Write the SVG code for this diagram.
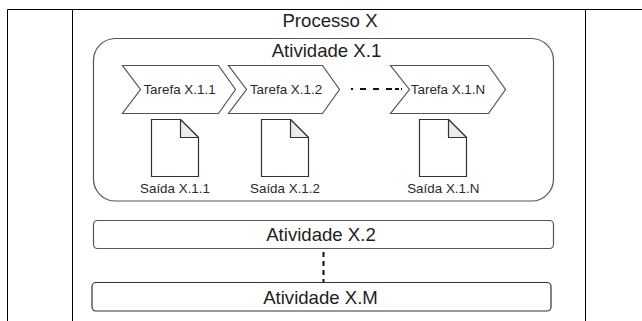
<svg xmlns="http://www.w3.org/2000/svg" width="642" height="321" viewBox="0 0 642 321">
<style>
.t{font-family:"Liberation Sans",Arial,sans-serif;fill:#1e1e1e;text-anchor:middle}
.big{font-size:18.6px}
.sm{font-size:13.4px;fill:#2a2a2a}
.shape{fill:#fff;stroke:#555;stroke-width:1.2}
.doc{fill:#fff;stroke:#333;stroke-width:1.2}
.fold{fill:#ececec;stroke:#333;stroke-width:1.2;stroke-linejoin:round}
.grid{stroke:#000;stroke-width:1;fill:none}
.dash{stroke:#111;stroke-width:2;fill:none}
</style>
<rect width="642" height="321" fill="#fff"/>
<g id="table">
<path class="grid" d="M7.5 321 V9.5 H642 M72.5 9.5 V321 M585.5 9.5 V321"/>
</g>
<g id="processo">
<text class="t big" x="330" y="26.5">Processo X</text>
</g>
<g id="atividade-x1">
<rect class="shape" x="93.5" y="38.5" width="460" height="162.5" rx="22" ry="22"/>
<text class="t big" x="326.5" y="56.5">Atividade X.1</text>
</g>
<g id="tarefa-x11">
<polygon class="shape" points="122.5,65.5 218.5,65.5 235.5,89.5 218.5,113.5 122.5,113.5 140.5,89.5"/>
<text class="t sm" x="179.5" y="94">Tarefa X.1.1</text>
</g>
<g id="tarefa-x12">
<polygon class="shape" points="228.5,65.5 322.5,65.5 339.5,89.5 322.5,113.5 228.5,113.5 246.5,89.5"/>
<text class="t sm" x="286" y="94">Tarefa X.1.2</text>
</g>
<g id="tarefa-x1n">
<polygon class="shape" points="390.5,65.5 488.5,65.5 505.5,89.5 488.5,113.5 390.5,113.5 409.5,89.5"/>
<text class="t sm" x="448" y="94">Tarefa X.1.N</text>
</g>
<g id="saida-x11">
<path class="doc" d="M151.5 119.5 H180.5 L198.5 137.5 V176.5 H151.5 Z"/>
<path class="fold" d="M180.5 119.5 V137.5 H198.5 Z"/>
<text class="t sm" x="175" y="193">Saída X.1.1</text>
</g>
<g id="saida-x12">
<path class="doc" d="M261.5 119.5 H290.5 L308.5 137.5 V176.5 H261.5 Z"/>
<path class="fold" d="M290.5 119.5 V137.5 H308.5 Z"/>
<text class="t sm" x="285" y="193">Saída X.1.2</text>
</g>
<g id="saida-x1n">
<path class="doc" d="M419.5 119.5 H448.5 L466.5 137.5 V176.5 H419.5 Z"/>
<path class="fold" d="M448.5 119.5 V137.5 H466.5 Z"/>
<text class="t sm" x="443.3" y="193">Saída X.1.N</text>
</g>
<g id="atividade-x2">
<rect class="shape" x="93.5" y="220.5" width="460" height="28" rx="4" ry="4"/>
<text class="t big" x="321" y="240.5">Atividade X.2</text>
</g>
<g id="atividade-xm">
<rect class="shape" x="92" y="282.5" width="459" height="28.5" rx="4" ry="4" style="stroke:#333"/>
<text class="t big" x="320.5" y="303.5">Atividade X.M</text>
</g>
<g id="connectors">
<line class="dash" x1="351" y1="89" x2="402" y2="89" stroke-dasharray="2 7 6 7 6 7 6 3 4"/>
<line class="dash" x1="323.5" y1="252" x2="323.5" y2="282" stroke-dasharray="5 4"/>
</g>
</svg>
